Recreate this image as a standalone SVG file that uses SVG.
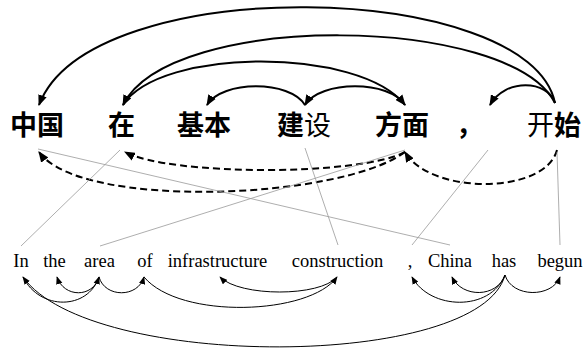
<svg xmlns="http://www.w3.org/2000/svg" width="588" height="349" viewBox="0 0 588 349">
<style>
.zh{font-family:"Noto Sans CJK SC","Noto Sans",sans-serif;font-size:27px;font-weight:bold;fill:#000}
.zh .n{font-weight:normal}
.en{font-family:"Liberation Serif","Times New Roman",serif;font-size:18.5px;fill:#000;text-anchor:middle}
.top{fill:none;stroke:#000;stroke-width:2;marker-end:url(#ah)}
.dash{fill:none;stroke:#000;stroke-width:2;stroke-dasharray:7,4;marker-end:url(#ah)}
.bot{fill:none;stroke:#000;stroke-width:1;marker-end:url(#ahs)}
.align{fill:none;stroke:#999;stroke-width:0.8}
</style>
<defs>
<marker id="ah" viewBox="0 0 10 8" refX="9" refY="4" markerWidth="11" markerHeight="9" markerUnits="userSpaceOnUse" orient="auto"><path d="M0,0 L10,4 L0,8 z" fill="#000"/></marker>
<marker id="ahs" viewBox="0 0 10 8" refX="9" refY="4" markerWidth="8" markerHeight="7" markerUnits="userSpaceOnUse" orient="auto"><path d="M0,0 L10,4 L0,8 z" fill="#000"/></marker>
</defs>
<rect width="588" height="349" fill="#fff"/>
<g id="connectors">
<path class="top" d="M555,103 C530,-20 90,-30 39,105"/>
<path class="top" d="M555,103 C510,15 170,10 123,105"/>
<path class="top" d="M123,105 C160,47 360,47 405,105"/>
<path class="top" d="M405,105 C390,80 320,80 305,105"/>
<path class="top" d="M305,105 C290,80 222,80 207,105"/>
<path class="top" d="M555,103 C548,80 505,78 490,105"/>
<path class="dash" d="M557,150 C545,195 430,195 405,152"/>
<path class="dash" d="M405,152 C360,176 170,176 125,152"/>
<path class="dash" d="M405,152 C340,200 80,210 39,152"/>
<line class="align" x1="38" y1="149" x2="450" y2="245"/>
<line class="align" x1="120" y1="150" x2="21" y2="246"/>
<line class="align" x1="405" y1="150" x2="100" y2="246"/>
<line class="align" x1="305" y1="148" x2="338" y2="245"/>
<line class="align" x1="488" y1="150" x2="412" y2="245"/>
<line class="align" x1="557" y1="152" x2="560" y2="245"/>
<path class="bot" d="M99,277 C93,298 64,298 57,277"/>
<path class="bot" d="M23,277 C40,311 88,310 99,277"/>
<path class="bot" d="M99,277 C105,298 138,298 144,277"/>
<path class="bot" d="M144,277 C180,320 310,315 337,277"/>
<path class="bot" d="M337,277 C320,297 240,297 220,277"/>
<path class="bot" d="M505,275 C480,370 90,371 23,277"/>
<path class="bot" d="M505,275 C490,312 430,310 412,277"/>
<path class="bot" d="M505,275 C497,298 462,298 452,277"/>
<path class="bot" d="M505,275 C512,298 552,298 560,277"/>
</g>
<g id="zh-zhongguo"><text class="zh" x="10" y="135">中国</text></g>
<g id="zh-zai"><text class="zh" x="108" y="135">在</text></g>
<g id="zh-jiben"><text class="zh" x="177" y="135">基本</text></g>
<g id="zh-jianshe"><text class="zh" x="277" y="135">建<tspan class="n">设</tspan></text></g>
<g id="zh-fangmian"><text class="zh" x="375" y="135">方面</text></g>
<g id="zh-comma"><text class="zh" x="456" y="135">，</text></g>
<g id="zh-kaishi"><text class="zh" x="527" y="135"><tspan class="n">开</tspan>始</text></g>
<g id="en-in"><text class="en" x="21" y="267">In</text></g>
<g id="en-the"><text class="en" x="54.5" y="267">the</text></g>
<g id="en-area"><text class="en" x="99.5" y="267">area</text></g>
<g id="en-of"><text class="en" x="145" y="267">of</text></g>
<g id="en-infrastructure"><text class="en" x="217.5" y="267">infrastructure</text></g>
<g id="en-construction"><text class="en" x="337.5" y="267">construction</text></g>
<g id="en-comma"><text class="en" x="410" y="267">,</text></g>
<g id="en-china"><text class="en" x="450" y="267">China</text></g>
<g id="en-has"><text class="en" x="504" y="267">has</text></g>
<g id="en-begun"><text class="en" x="560" y="267">begun</text></g>
</svg>
